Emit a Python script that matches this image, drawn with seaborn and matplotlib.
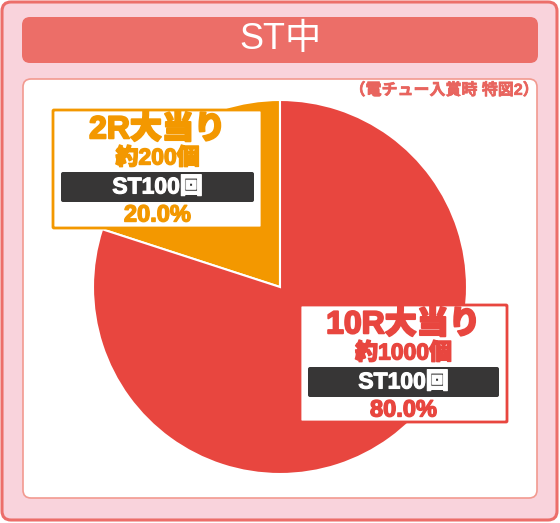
import matplotlib
matplotlib.use('Agg')

import matplotlib.pyplot as plt
import matplotlib.patheffects as pe
import seaborn as sns
from matplotlib.patches import FancyBboxPatch

# Data
rounds = ["2R大当り", "10R大当り"]
shares = [20.0, 80.0]
balls = ["約200個", "約1000個"]
st_counts = ["ST100回", "ST100回"]
title = "ST中"
note = "（電チュー入賞時 特図2）"

sns.set_style("white")
plt.rcParams['font.family'] = ['Liberation Sans', 'Noto Sans CJK JP', 'DejaVu Sans']

ORANGE = "#f39800"
RED = "#e8463f"
palette = [ORANGE, RED]

W, H = 560, 523
fig = plt.figure(figsize=(W / 100, H / 100), dpi=100)


def px_axes(zorder):
    ax = fig.add_axes([0, 0, 1, 1], zorder=zorder)
    ax.set_xlim(0, W)
    ax.set_ylim(H, 0)
    ax.axis("off")
    ax.patch.set_alpha(0)
    return ax


def rbox(ax, x0, y0, x1, y1, r, fc, ec, lw):
    ax.add_patch(FancyBboxPatch((x0, y0), x1 - x0, y1 - y0,
                                boxstyle=f"round,pad=0,rounding_size={r}",
                                fc=fc, ec=ec, lw=lw))


def thick(c, w=1.2):
    return [pe.withStroke(linewidth=w, foreground=c)]


# background frames
bg = px_axes(0)
rbox(bg, 2, 2, 557, 520, 9, "#f9d3dc", "#ec6e6a", 2.2)
rbox(bg, 22, 17, 538, 63, 8, "#ec6e68", "none", 0)
bg.text(280, 40, title, color="white", fontsize=26, ha="center", va="center")
rbox(bg, 23, 79, 537, 498, 8, "white", "#f29a90", 1.2)
bg.text(539, 90, note, color="#e8645e", fontsize=11.5, fontweight="bold",
        ha="right", va="center", path_effects=thick("#e8645e", 0.5))

# pie
cx, cy, r = 280, 287, 187
pie_ax = fig.add_axes([(cx - r) / W, (H - cy - r) / H, 2 * r / W, 2 * r / H], zorder=1)
pie_ax.pie(shares, colors=palette, startangle=90, counterclock=True,
           wedgeprops=dict(edgecolor="white", linewidth=1.5))
pie_ax.set_xlim(-1, 1)
pie_ax.set_ylim(-1, 1)
pie_ax.set_aspect("equal")
pie_ax.patch.set_alpha(0)

# label boxes
ov = px_axes(2)
boxes = [(53, 110, 262, 228), (300, 305, 507, 422)]
for i, (x0, y0, x1, y1) in enumerate(boxes):
    c = palette[i]
    mid = (x0 + x1) / 2
    rbox(ov, x0, y0, x1, y1, 1, "white", c, 2)
    ov.text(mid, y0 + 20, rounds[i], color=c, fontsize=23, fontweight="heavy",
            ha="center", va="center", path_effects=thick(c, 1.4))
    ov.text(mid, y0 + 48, balls[i], color=c, fontsize=16.5, fontweight="heavy",
            ha="center", va="center", path_effects=thick(c, 1.0))
    rbox(ov, x0 + 8, y0 + 62, x1 - 8, y0 + 92, 2, "#373636", "none", 0)
    ov.text(mid, y0 + 77, st_counts[i], color="white", fontsize=16.5, fontweight="heavy",
            ha="center", va="center", path_effects=thick("white", 0.8))
    ov.text(mid, y0 + 105, f"{shares[i]:.1f}%", color=c, fontsize=17, fontweight="heavy",
            ha="center", va="center", path_effects=thick(c, 1.0))

fig.savefig("out.png", dpi=100)
